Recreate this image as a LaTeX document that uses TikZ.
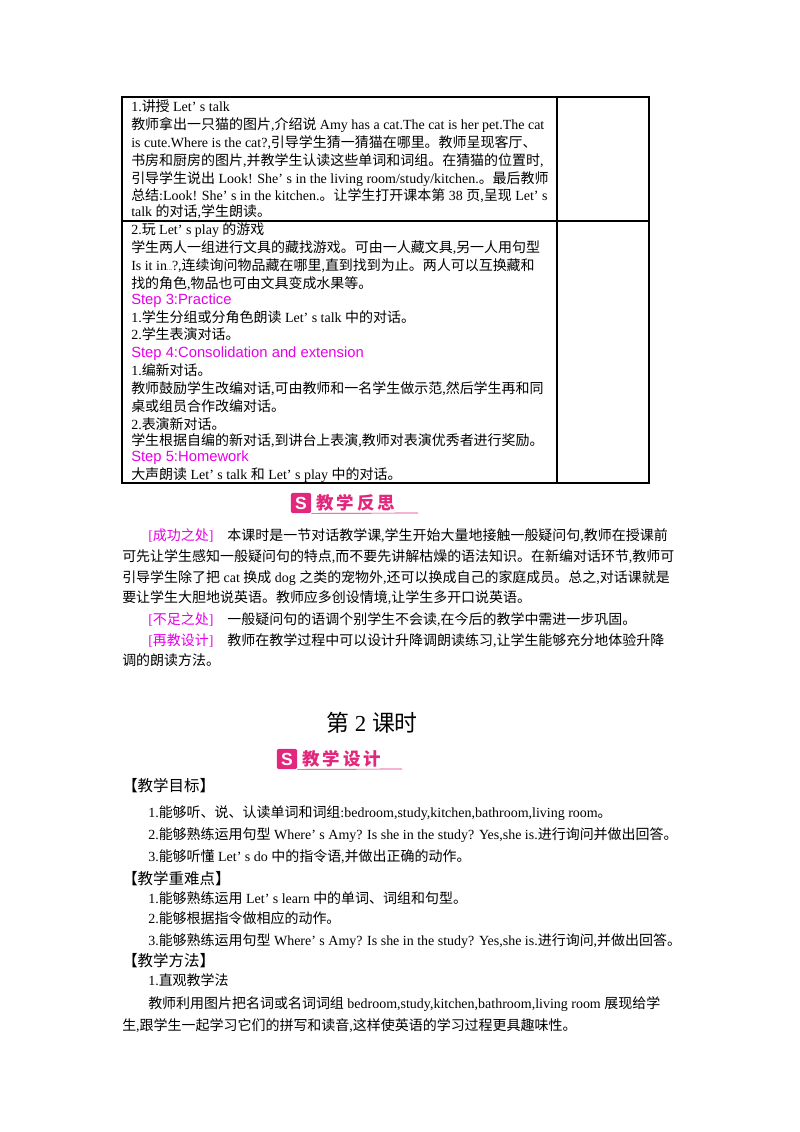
\documentclass[tikz,border=0pt]{standalone}
\usepackage{fontspec}
\setmainfont{Liberation Serif}
\setsansfont{Liberation Sans}
\newfontfamily\cjk{Noto Sans CJK SC}
\newXeTeXintercharclass\cjkcls
\count255="4E00 \loop \XeTeXcharclass\count255=\cjkcls \advance\count255 1 \ifnum\count255<"A000 \repeat
\count255="3000 \loop \XeTeXcharclass\count255=\cjkcls \advance\count255 1 \ifnum\count255<"3040 \repeat
\count255="FF00 \loop \XeTeXcharclass\count255=\cjkcls \advance\count255 1 \ifnum\count255<"FFF0 \repeat
\XeTeXinterchartoks 0 \cjkcls={\cjk}
\XeTeXinterchartoks 4095 \cjkcls={\cjk}
\XeTeXinterchartoks \cjkcls 0={\rmfamily}
\XeTeXinterchartoks \cjkcls 4095={\rmfamily}
\XeTeXinterchartokenstate=1
\definecolor{mag}{RGB}{230,0,230}
\definecolor{rose}{RGB}{225,40,125}
\newcounter{ln}
\newcommand\tl[3]{\stepcounter{ln}\node[txt] (l\theln) at (#1,#2) {#3};}
\newcommand\st[3]{\stepcounter{ln}\node[txt,stepst] (l\theln) at (#1,#2) {#3};}
\newcommand\mg[1]{{\color{mag}#1}}
\begin{document}
\begin{tikzpicture}[x=0.744pt,y=-0.744pt,
  txt/.style={anchor=base west,inner sep=0pt,font=\fontsize{10.4}{12}\selectfont},
  stepst/.style={text=mag,font=\fontsize{11}{13}\sffamily},
  tab/.style={line width=0.8pt},
  ico/.style={fill=rose,rounded corners=1.5pt,minimum size=15pt,inner sep=0pt,text=white,font=\bfseries\sffamily\fontsize{13}{13}\selectfont},
  icot/.style={anchor=west,inner sep=0pt,text=rose,font=\bfseries\fontsize{13}{13}\selectfont}]
\useasboundingbox (0,0) rectangle (800,1132);
% table
\draw[tab] (122,97) rectangle (649,483);
\draw[tab] (557,97) -- (557,483);
\draw[tab] (122,221) -- (649,221);
\tl{131}{111}{1.讲授 Let’ s talk}
\tl{131}{129}{教师拿出一只猫的图片,介绍说 Amy has a cat.The cat is her pet.The cat}
\tl{131}{147}{is cute.Where is the cat?,引导学生猜一猜猫在哪里。教师呈现客厅、}
\tl{131}{165}{书房和厨房的图片,并教学生认读这些单词和词组。在猜猫的位置时,}
\tl{131}{183}{引导学生说出 Look! She’ s in the living room/study/kitchen.。最后教师}
\tl{131}{200}{总结:Look! She’ s in the kitchen.。让学生打开课本第 38 页,呈现 Let’ s}
\tl{131}{216}{talk 的对话,学生朗读。}
\tl{131}{234}{2.玩 Let’ s play 的游戏}
\tl{131}{252}{学生两人一组进行文具的藏找游戏。可由一人藏文具,另一人用句型}
\tl{131}{270}{Is it in\raisebox{0pt}{\tiny...}?,连续询问物品藏在哪里,直到找到为止。两人可以互换藏和}
\tl{131}{288}{找的角色,物品也可由文具变成水果等。}
\st{131}{304}{Step 3:Practice}
\tl{131}{322}{1.学生分组或分角色朗读 Let’ s talk 中的对话。}
\tl{131}{339}{2.学生表演对话。}
\st{131}{357}{Step 4:Consolidation and extension}
\tl{131}{375}{1.编新对话。}
\tl{131}{393}{教师鼓励学生改编对话,可由教师和一名学生做示范,然后学生再和同}
\tl{131}{411}{桌或组员合作改编对话。}
\tl{131}{429}{2.表演新对话。}
\tl{131}{445}{学生根据自编的新对话,到讲台上表演,教师对表演优秀者进行奖励。}
\st{131}{461}{Step 5:Homework}
\tl{131}{479}{大声朗读 Let’ s talk 和 Let’ s play 中的对话。}
% icon 1
\node[ico] (i1) at (301,503) {S};
\node[icot] (t1) at (316,503) {教\,学\,反\,思};
\draw[rose,line width=0.5pt] (i1.south east) -- (418,513);
\tl{148}{540}{\mg{[成功之处]}\quad 本课时是一节对话教学课,学生开始大量地接触一般疑问句,教师在授课前}
\tl{122}{561}{可先让学生感知一般疑问句的特点,而不要先讲解枯燥的语法知识。在新编对话环节,教师可}
\tl{122}{582}{引导学生除了把 cat 换成 dog 之类的宠物外,还可以换成自己的家庭成员。总之,对话课就是}
\tl{122}{602}{要让学生大胆地说英语。教师应多创设情境,让学生多开口说英语。}
\tl{148}{624}{\mg{[不足之处]}\quad 一般疑问句的语调个别学生不会读,在今后的教学中需进一步巩固。}
\tl{148}{645}{\mg{[再教设计]}\quad 教师在教学过程中可以设计升降调朗读练习,让学生能够充分地体验升降}
\tl{122}{665}{调的朗读方法。}
\stepcounter{ln}\node[anchor=base,inner sep=0pt,font=\fontsize{17}{20}\selectfont] (l\theln) at (372,731) {第 2 课时};
% icon 2
\node[ico] (i2) at (287,759) {S};
\node[icot] (t2) at (302,759) {教\,学\,设\,计};
\draw[rose,line width=0.5pt] (i2.south east) -- (402,769);
\tl{122}{791}{\fontsize{11.5}{13}\selectfont【教学目标】}
\tl{148}{817}{1.能够听、说、认读单词和词组:bedroom,study,kitchen,bathroom,living room。}
\tl{148}{839}{2.能够熟练运用句型 Where’ s Amy? Is she in the study? Yes,she is.进行询问并做出回答。}
\tl{148}{861}{3.能够听懂 Let’ s do 中的指令语,并做出正确的动作。}
\tl{122}{884}{\fontsize{11.5}{13}\selectfont【教学重难点】}
\tl{148}{903}{1.能够熟练运用 Let’ s learn 中的单词、词组和句型。}
\tl{148}{923}{2.能够根据指令做相应的动作。}
\tl{148}{945}{3.能够熟练运用句型 Where’ s Amy? Is she in the study? Yes,she is.进行询问,并做出回答。}
\tl{122}{966}{\fontsize{11.5}{13}\selectfont【教学方法】}
\tl{148}{985}{1.直观教学法}
\tl{148}{1008}{教师利用图片把名词或名词词组 bedroom,study,kitchen,bathroom,living room 展现给学}
\tl{122}{1030}{生,跟学生一起学习它们的拼写和读音,这样使英语的学习过程更具趣味性。}
\end{tikzpicture}
\end{document}
